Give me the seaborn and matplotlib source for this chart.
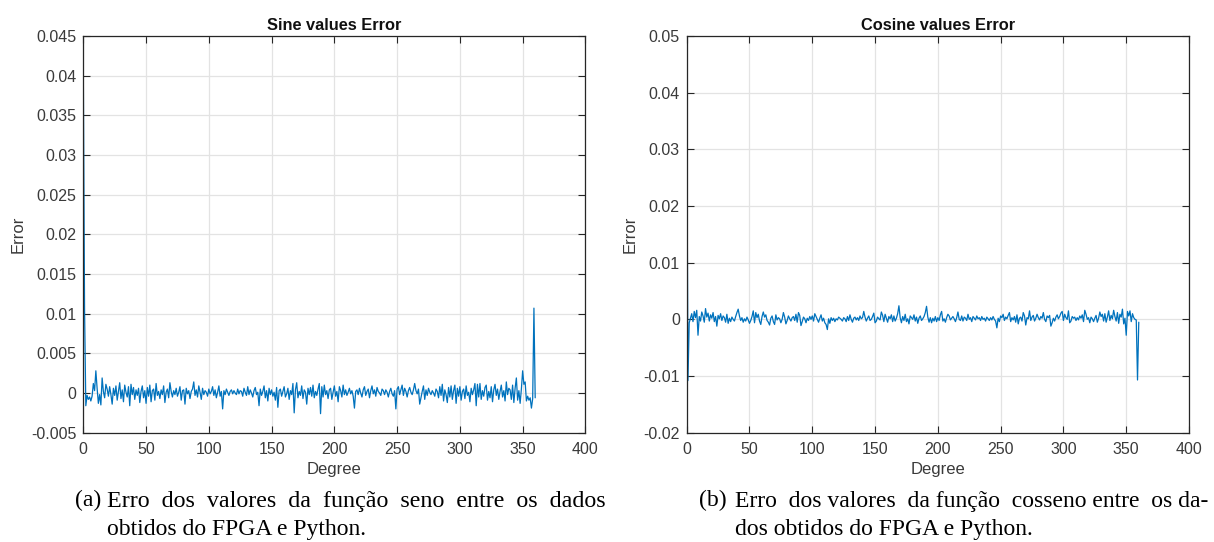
import numpy as np
import pandas as pd
import matplotlib
matplotlib.use("Agg")
import matplotlib.pyplot as plt
from matplotlib.ticker import FuncFormatter
import seaborn as sns

# ---------------- data (errors in units of 1e-3) ----------------
sine_err_milli = [
    40.5, 10.6, -1.6, -0.3, -0.8, -0.5, -1.0, -0.4, 1.2, 0.3, 2.8, 0.6, -1.3, -0.2, -1.5, 1.9, 0.2, -0.6, 1.1, 0.5,
    -0.4, 0.8, -0.2, -1.4, 0.6, -0.3, 0.9, -0.9, 0.2, 1.3, -0.7, 0.4, -1.1, 1.0, 0.1, -0.5, 0.8, -1.6, 1.1, -0.2,
    0.7, -0.8, 0.4, -0.3, 0.6, -1.2, 0.2, 0.9, -0.6, 0.3, -1.3, 0.7, -0.4, 1.0, -1.1, 0.3, 0.5, -0.9, 1.2, -0.3,
    0.2, -0.7, 0.4, -0.2, 0.9, -1.2, 0.1, 0.5, -0.6, 1.3, 0.2, -0.5, 0.3, -0.2, 0.6, -0.4, 0.1, 0.8, -0.9, 0.3,
    0.4, -1.4, 0.6, -0.1, 0.3, -0.7, 0.2, 0.5, 1.4, -0.3, 0.4, -0.5, 0.9, 0.1, -0.8, 0.6, -0.2, 0.3, 0.1, -0.4,
    0.5, -0.1, 0.2, 0.8, -0.3, 0.4, -0.6, 0.1, 0.9, -0.4, 0.2, -2.0, 0.3, -0.2, 0.5, 0.1, -0.3, 0.2, 0.4, -0.1,
    0.3, 0.0, -0.2, 0.5, -0.1, 0.3, 0.2, -0.4, 0.6, 0.1, -0.3, 0.8, -0.2, 0.4, 0.0, -0.5, 0.3, 0.7, -0.2, 0.1,
    -1.6, 0.5, -0.3, 0.2, 0.9, -0.6, 0.3, -1.0, 0.6, -0.2, 0.4, -0.4, 0.1, -0.9, 0.7, -1.8, 0.3, 0.5, -0.4, 0.2,
    0.8, -0.5, -0.1, 0.6, -0.8, 0.3, -0.2, 1.2, -2.5, 0.4, 1.3, -0.6, 0.2, -0.3, 0.9, -0.7, 0.4, 0.1, -1.4, 0.6,
    -0.2, 0.7, -0.4, 1.0, -0.6, 0.2, -0.3, 0.5, 1.2, -2.6, 0.8, -0.5, 1.0, -0.2, 0.3, -0.7, 0.4, 0.6, -0.8, 0.1,
    0.9, -0.4, 0.2, -1.1, 0.8, 0.3, -0.5, 1.0, -0.2, 0.4, -0.3, 0.1, 0.6, -0.1, 0.3, -0.4, -1.9, 0.2, 0.4, -0.2,
    0.6, 0.0, -0.5, 0.4, 0.8, -0.3, 0.2, 0.5, -0.6, 0.3, 0.9, -0.1, 0.4, -0.4, 0.7, 0.2, 0.0, -0.3, 0.5, 0.3,
    -0.2, 0.4, 0.1, -0.5, 0.2, 0.6, -0.1, -0.4, 0.3, -2.0, 0.5, 0.8, -0.2, 0.4, 1.0, -0.3, 0.6, 0.2, -0.5, 0.3,
    0.7, 0.1, -0.2, 0.4, 1.2, 0.3, -0.1, 0.5, -1.4, -0.6, 0.2, 0.9, -0.8, 0.4, -0.3, 0.6, 0.1, -0.2, 0.3, 0.0,
    -0.4, 0.5, 0.2, -0.6, 0.8, -0.3, 1.1, -1.0, 0.4, -0.2, -1.2, 0.7, -0.5, 0.9, -0.8, 0.3, 1.0, -1.3, 0.6, -0.4,
    0.8, -0.9, 0.2, 0.5, -0.7, 0.9, -0.3, 0.1, -1.1, 0.6, -0.2, 0.4, 1.2, -1.6, 1.1, -0.5, 1.2, -0.8, 0.3, -0.4,
    0.7, 1.0, -0.9, 0.2, -0.6, 0.8, -1.1, 0.4, 1.1, -0.3, 0.5, -0.8, 0.2, 1.0, -0.5, 0.3, -1.0, 1.4, -0.2, 0.6,
    0.4, -0.8, 1.0, -1.2, 0.6, 1.9, -0.9, 0.3, -1.3, 0.5, 2.8, 1.1, 1.4, -1.0, -0.4, -0.9, -0.6, -1.9, -0.7, 10.7,
    -0.6,
]

cosine_err_milli = [
    40.3, -10.8, -0.6, 0.2, 1.0, -0.4, 1.4, 0.3, 1.6, -2.8, 0.5, -0.3, 1.3, 0.6, -0.5, 1.9, 0.4, 1.1, -0.3, 0.8,
    0.2, 1.2, -0.4, 0.5, -1.2, 0.7, 0.1, 1.0, -0.2, 0.6, 0.3, -0.5, 0.9, -0.7, 0.2, -0.4, 0.4, 0.0, -0.3, 0.5,
    1.2, 1.8, 0.6, -0.2, 0.3, -0.5, 0.1, -0.3, 0.4, -0.1, -0.7, -0.2, 0.5, 1.5, -0.6, 1.2, 0.3, 0.9, -0.3, -0.9,
    0.5, 1.3, 0.4, 0.8, -0.2, -0.5, -1.0, 0.2, 0.6, -0.4, -0.9, 0.8, -0.1, 0.3, 0.1, -0.6, 0.0, 1.2, 0.4, -0.8,
    -0.2, 0.6, 0.1, -0.3, 0.3, 0.5, -0.2, 0.9, -0.5, 1.2, 0.7, -1.1, -0.4, 0.4, 0.1, -0.6, 0.2, -0.2, 0.5, 0.0,
    0.6, -0.3, 1.0, 0.5, 0.0, -0.5, 0.2, 0.8, -0.3, 0.2, -0.6, -0.9, -1.8, 0.1, -0.7, 0.3, -0.2, 0.2, -0.4, 0.1,
    -0.1, 0.4, 0.2, 0.0, -0.3, 0.3, 0.1, -0.4, 0.5, -0.2, 0.8, 0.0, -0.5, 0.2, 0.4, -0.1, 0.3, -0.2, 0.6, 0.1,
    0.3, 1.4, 0.4, -0.3, 0.2, 0.6, -0.2, 0.0, 0.5, 1.1, -0.6, -0.3, 0.4, 0.1, -0.1, 1.3, 0.7, -0.4, 0.9, 0.2,
    -0.5, 0.5, 0.1, 0.8, -0.4, 0.6, -0.3, 0.2, 1.0, 2.4, 0.3, -0.6, 0.5, -0.2, 0.9, -0.4, 0.1, -0.8, 0.6, 0.3,
    0.0, 0.8, -0.3, 0.4, -0.7, 0.2, 0.6, -0.2, 0.1, 0.5, 1.2, 2.3, 0.4, -0.5, 0.3, -0.6, 0.2, -0.3, 0.5, -0.4,
    0.3, -0.2, 0.8, 1.4, -0.3, 0.1, -0.5, 0.3, 0.9, 0.6, -0.1, 0.2, 0.5, 0.1, -0.4, 0.3, 1.3, 0.0, -0.2, 0.6,
    -0.3, 0.4, 0.2, -0.2, 0.9, 0.0, 0.3, -0.4, 0.5, 0.2, -0.1, 0.6, 0.1, 0.3, -0.2, 0.5, 0.0, 0.2, -0.3, 0.4,
    0.1, -0.2, 0.3, -0.1, 0.5, 0.0, -0.3, -1.5, 0.2, -0.4, 0.6, 0.3, 0.9, -0.2, 0.4, 0.1, 0.7, 1.2, -0.4, 0.3,
    -0.1, 0.5, -0.5, 0.8, -0.8, 0.2, 0.4, -0.3, 1.2, 0.6, -1.0, 0.3, 0.1, 1.5, -0.2, 0.4, 0.7, -0.3, 0.2, 0.9,
    0.3, -0.1, 0.5, 0.2, 1.2, 0.0, -0.4, 0.6, 0.3, 0.7, -1.2, -0.6, 0.2, -0.3, 0.4, 0.8, 0.1, 0.5, 1.1, 1.4,
    -0.2, 0.9, 0.3, 0.0, 1.5, -0.6, -0.3, 0.5, 0.2, 0.4, -0.2, 0.3, -0.1, 0.6, 0.2, 0.8, -0.4, 1.6, 0.9, 0.0,
    0.3, -0.6, 0.4, 0.1, -0.4, 0.2, 0.7, -0.5, 0.2, 1.3, 0.5, 0.9, -0.3, 1.0, -0.5, 0.4, 1.5, -0.2, 0.7, 0.1,
    1.6, 0.5, -0.3, 1.2, -0.7, 0.9, 0.4, 1.8, -0.8, 0.2, -2.8, 1.4, 0.6, 1.5, -0.4, 1.0, 0.3, 0.0, -0.1, -10.7,
    -0.5,
]

titles = ["Sine values Error", "Cosine values Error"]
x_label = "Degree"
y_label = "Error"
x_ticks = [0, 50, 100, 150, 200, 250, 300, 350, 400]
y_ticks_sine = [-0.005, 0, 0.005, 0.01, 0.015, 0.02, 0.025, 0.03, 0.035, 0.04, 0.045]
y_ticks_cos = [-0.02, -0.01, 0, 0.01, 0.02, 0.03, 0.04, 0.05]
captions = [
    ("(a)", "Erro dos valores da função seno entre os dados", "obtidos do FPGA e Python."),
    ("(b)", "Erro dos valores da função cosseno entre os da-", "dos obtidos do FPGA e Python."),
]

# ---------------- style ----------------
sns.set_style("white")
plt.rcParams["font.family"] = ["Liberation Sans", "DejaVu Sans"]
plt.rcParams["axes.unicode_minus"] = False

ink = "#262626"
tick_ink = "#3a3a3a"
line_color = "#0072BD"
grid_color = "#e3e3e3"

fig = plt.figure(figsize=(12.14, 5.42), dpi=100)
W, H = 1214.0, 542.0

def px_axes(x0, x1, ytop, ybot):
    return fig.add_axes([x0 / W, 1 - ybot / H, (x1 - x0) / W, (ybot - ytop) / H])

ax1 = px_axes(83.3, 585.4, 36.0, 432.7)
ax2 = px_axes(686.7, 1189.0, 36.0, 432.7)

def fmt(v, pos):
    v = round(v, 6)
    if v == 0:
        return "0"
    return f"{v:g}"

series = [
    (ax1, sine_err_milli, y_ticks_sine, (-0.005, 0.045)),
    (ax2, cosine_err_milli, y_ticks_cos, (-0.02, 0.05)),
]

for i, (ax, vals, yt, ylim) in enumerate(series):
    df = pd.DataFrame({"Degree": np.arange(len(vals)), "Error": np.array(vals) / 1000.0})
    sns.lineplot(data=df, x="Degree", y="Error", ax=ax, color=line_color,
                 linewidth=0.9, estimator=None, sort=False)
    ax.set_xlim(0, 400)
    ax.set_ylim(*ylim)
    ax.set_xticks(x_ticks)
    ax.set_yticks(yt)
    ax.yaxis.set_major_formatter(FuncFormatter(fmt))
    ax.grid(True, color=grid_color, linewidth=0.9)
    ax.set_axisbelow(True)
    for s in ax.spines.values():
        s.set_visible(True)
        s.set_color(ink)
        s.set_linewidth(0.9)
    ax.tick_params(direction="in", length=5, width=0.8, color=ink,
                   top=True, right=True, bottom=True, left=True,
                   labelsize=11.5, labelcolor=tick_ink)
    ax.tick_params(axis="x", pad=7)
    ax.tick_params(axis="y", pad=5)
    ax.set_title(titles[i], fontsize=11.8, fontweight="bold", color="#111111", pad=4)
    ax.set_xlabel(x_label, fontsize=12, color=tick_ink, labelpad=3)
    ax.set_ylabel(y_label, fontsize=12, color=tick_ink, labelpad=4)

# captions: first line justified (by widening some gaps) between pixel limits
serif = ["Liberation Serif", "DejaVu Serif"]
cap_x = [(75, 107, 605), (699, 735, 1208)]
base1, base2 = 506.5, 535.5
FS = 17
fig.canvas.draw()
renderer = fig.canvas.get_renderer()

def text_width(s, size):
    t = fig.text(0, 0, s, family=serif, fontsize=size)
    w = t.get_window_extent(renderer).width
    t.remove()
    return w

for (lab, l1, l2), (xa, xb, xe) in zip(captions, cap_x):
    kw = dict(va="baseline", ha="left", color="black", family=serif)
    fig.text(xa / W, 1 - base1 / H, lab, fontsize=FS, **kw)
    words = l1.split(" ")
    ngaps = len(words) - 1
    target = xe - xb
    w_single = text_width(l1, FS)
    w_space = text_width("a a", FS) - text_width("aa", FS)
    n_extra = int(np.clip(round((target - w_single) / w_space), 0, ngaps))
    # spread the widened gaps evenly
    widen = set(int(round((k + 0.5) * ngaps / n_extra - 0.5)) for k in range(n_extra)) if n_extra else set()
    line = words[0]
    for g in range(ngaps):
        line += ("  " if g in widen else " ") + words[g + 1]
    size = FS * target / text_width(line, FS)
    fig.text(xb / W, 1 - base1 / H, line, fontsize=size, **kw)
    fig.text(xb / W, 1 - base2 / H, l2, fontsize=FS, **kw)

fig.savefig("out.png", dpi=100)
